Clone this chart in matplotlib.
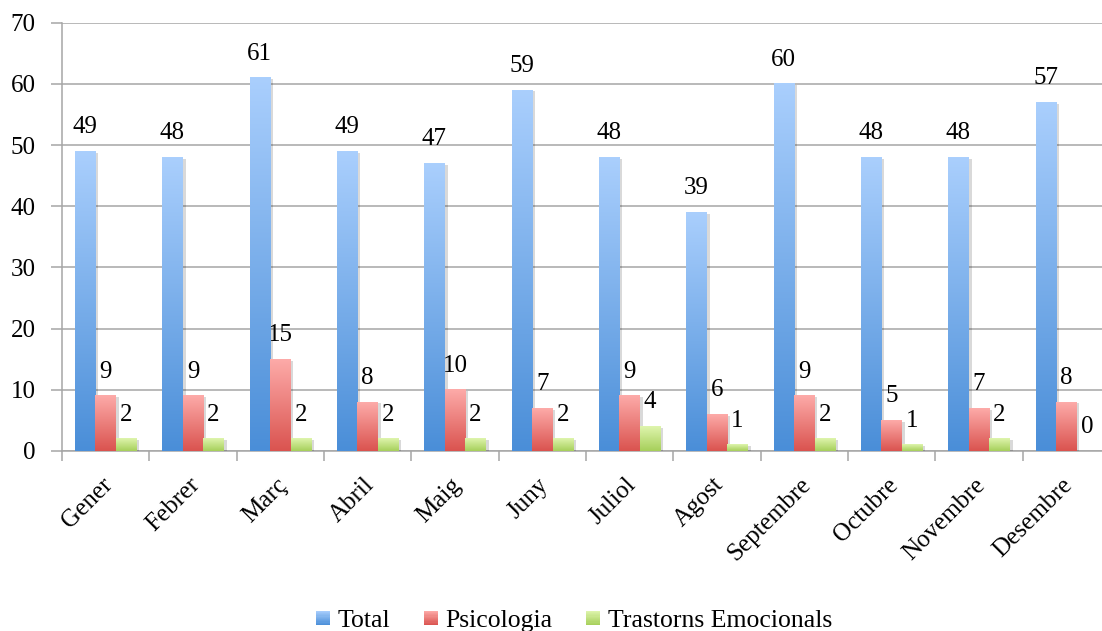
import numpy as np
import matplotlib
matplotlib.use('Agg')
import matplotlib.pyplot as plt
import matplotlib.patheffects as pe
import matplotlib.transforms as mtransforms
from matplotlib.colors import LinearSegmentedColormap
from matplotlib.legend_handler import HandlerBase
from matplotlib.patches import Rectangle, Patch

## Monthly counts
months = ['Gener', 'Febrer', 'Març', 'Abril', 'Maig', 'Juny', 'Juliol',
          'Agost', 'Septembre', 'Octubre', 'Novembre', 'Desembre']
total = [49, 48, 61, 49, 47, 59, 48, 39, 60, 48, 48, 57]
psicologia = [9, 9, 15, 8, 10, 7, 9, 6, 9, 5, 7, 8]
trastorns = [2, 2, 2, 2, 2, 2, 4, 1, 2, 1, 2, 0]
series_names = ['Total', 'Psicologia', 'Trastorns Emocionals']

## (top colour, bottom colour) of the gradient of each series
shades = [('#aacffd', '#4a8ed8'), ('#fdaba9', '#da534f'), ('#dff5ae', '#a6cf5a')]
GRID = '#a6a6a6'
FS = 18

plt.rcParams['font.family'] = ['Liberation Serif', 'DejaVu Serif']


class GradientHandler(HandlerBase):
    # legend square filled with the same vertical gradient as the bars
    def __init__(self, top, bottom):
        super().__init__()
        self.cmap = LinearSegmentedColormap.from_list('', [bottom, top])

    def create_artists(self, legend, orig_handle, xdescent, ydescent,
                       width, height, fontsize, trans):
        n = 12
        s = min(width, height)
        x0 = -xdescent + (width - s) / 2
        y0 = -ydescent + (height - s) / 2
        return [Rectangle((x0, y0 + s * k / n), s, s / n + 0.05,
                          facecolor=self.cmap((k + 0.5) / n), edgecolor='none',
                          transform=trans) for k in range(n)]


fig = plt.figure(figsize=(11.02, 6.31), dpi=100)
ax = fig.add_axes([62 / 1102, 0.2853, 1048 / 1102, 0.6786])

x = np.arange(len(months))
w = 0.235
grad = np.linspace(1, 0, 256).reshape(-1, 1)

for i, (vals, (top, bottom)) in enumerate(zip([total, psicologia, trastorns], shades)):
    cmap = LinearSegmentedColormap.from_list('', [bottom, top])
    bars = ax.bar(x + (i - 1) * w, vals, w, color=bottom, zorder=3)
    for b, v in zip(bars, vals):
        b.set_path_effects([pe.SimplePatchShadow(offset=(2, -1), shadow_rgbFace='k', alpha=0.15),
                            pe.Normal()])
        h = b.get_height()
        if h > 0:
            ax.imshow(grad, cmap=cmap, extent=(b.get_x(), b.get_x() + b.get_width(), 0, h),
                      aspect='auto', zorder=4, interpolation='bilinear')
        ax.annotate(str(v), (b.get_x() + b.get_width() / 2, h), xytext=(0, 13),
                    textcoords='offset points', ha='center', va='baseline', fontsize=FS)

ax.set_xlim(-0.5, 11.5)
ax.set_ylim(0, 70)

## Axes styling
ax.set_axisbelow(True)
ax.yaxis.grid(True, color=GRID, lw=1.1)
for side in ['top', 'right']:
    ax.spines[side].set_visible(False)
for side in ['left', 'bottom']:
    ax.spines[side].set_color(GRID)
    ax.spines[side].set_linewidth(1.1)

ax.set_yticks(range(0, 71, 10))
ax.tick_params(axis='y', length=8, width=1.1, color=GRID, pad=11, labelsize=FS)

ax.set_xticks(x)
ax.set_xticklabels(months, rotation=45, ha='right', va='center', rotation_mode='anchor')
ax.set_xticks(np.arange(-0.5, 12, 1), minor=True)
ax.tick_params(axis='x', which='major', length=0, pad=22, labelsize=FS)
ax.tick_params(axis='x', which='minor', length=7, width=1.1, color=GRID)
shift = mtransforms.ScaledTranslation(3 / 100, 0, fig.dpi_scale_trans)
for lab in ax.get_xticklabels():
    lab.set_transform(lab.get_transform() + shift)

## Legend at the bottom
handles = [Patch(label=n) for n in series_names]
hmap = {h: GradientHandler(t, b) for h, (t, b) in zip(handles, shades)}
fig.legend(handles=handles, labels=series_names, handler_map=hmap, loc='center',
           bbox_to_anchor=(0.521, 0.016), ncol=3, frameon=False, fontsize=18.5,
           handlelength=0.55, handleheight=0.55, handletextpad=0.3, columnspacing=1.3)

fig.savefig('out.png', dpi=100)
